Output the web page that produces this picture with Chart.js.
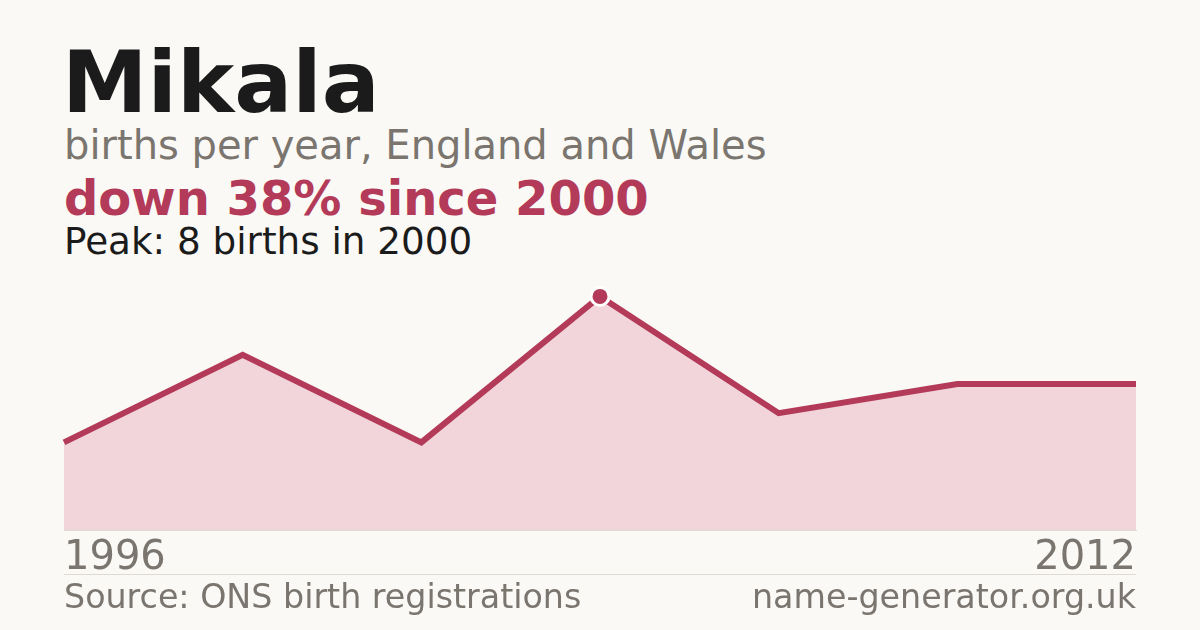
<!DOCTYPE html>
<html>
<head>
<meta charset="utf-8">
<script src="https://cdn.jsdelivr.net/npm/chart.js@4"></script>
<style>
  html, body { margin: 0; padding: 0; }
  body { width: 1200px; height: 630px; background: #faf9f5; position: relative; overflow: hidden; font-family: "DejaVu Sans", sans-serif; }
  .t { position: absolute; white-space: nowrap; line-height: 1.164; }
  #title { left: 62px; top: 32px; font-size: 86px; font-weight: bold; color: #1b1b1b; }
  #sub { left: 64px; top: 122px; font-size: 40px; color: #7a756e; }
  #trend { left: 64px; top: 171px; font-size: 48px; font-weight: bold; color: #b33a58; }
  #peak { left: 64px; top: 220px; font-size: 37.3px; color: #1b1b1b; }
  #rule { position: absolute; left: 64px; width: 1072px; top: 574px; height: 1px; background: #dedad3; }
  #src { left: 64px; top: 578px; font-size: 33.3px; color: #7a756e; }
  #site { right: 64px; top: 578px; font-size: 33.3px; color: #7a756e; }
  #wrap { position: absolute; left: 0; top: 238px; width: 1200px; height: 350px; }
</style>
</head>
<body>
<div class="t" id="title">Mikala</div>
<div class="t" id="sub">births per year, England and Wales</div>
<div class="t" id="trend">down 38% since 2000</div>
<div class="t" id="peak">Peak: 8 births in 2000</div>
<div id="wrap"><canvas id="c"></canvas></div>
<div id="rule"></div>
<div class="t" id="src">Source: ONS birth registrations</div>
<div class="t" id="site">name-generator.org.uk</div>
<script>
const years = ["1996", "1998", "1999", "2000", "2004", "2009", "2012"];
const births = [3, 6, 3, 8, 4, 5, 5];
const peakIndex = 3;
const lineColor = "#b33a58";
const fillColor = "#f2d5db";

new Chart(document.getElementById("c"), {
  type: "line",
  data: {
    labels: years,
    datasets: [{
      data: births,
      borderColor: lineColor,
      borderWidth: 6,
      backgroundColor: fillColor,
      fill: "origin",
      tension: 0,
      pointRadius: births.map((v, i) => i === peakIndex ? 9 : 0),
      pointBackgroundColor: lineColor,
      pointBorderColor: "#ffffff",
      pointBorderWidth: 3,
      pointHoverRadius: 0
    }]
  },
  options: {
    responsive: true,
    maintainAspectRatio: false,
    animation: false,
    events: [],
    layout: { padding: { left: 64, right: 64, top: 0, bottom: 0 } },
    plugins: { legend: { display: false }, tooltip: { enabled: false } },
    scales: {
      x: {
        offset: false,
        grid: { display: false, drawTicks: false },
        border: { display: true, color: "#dedad3", width: 1 },
        ticks: {
          align: "inner",
          maxRotation: 0,
          autoSkip: false,
          padding: 5,
          color: "#7a756e",
          font: { family: "DejaVu Sans", size: 40 },
          callback: function(v, i) { return (i === 0 || i === years.length - 1) ? years[i] : ""; }
        }
      },
      y: {
        display: false,
        min: 0,
        max: 10
      }
    }
  }
});
</script>
</body>
</html>
